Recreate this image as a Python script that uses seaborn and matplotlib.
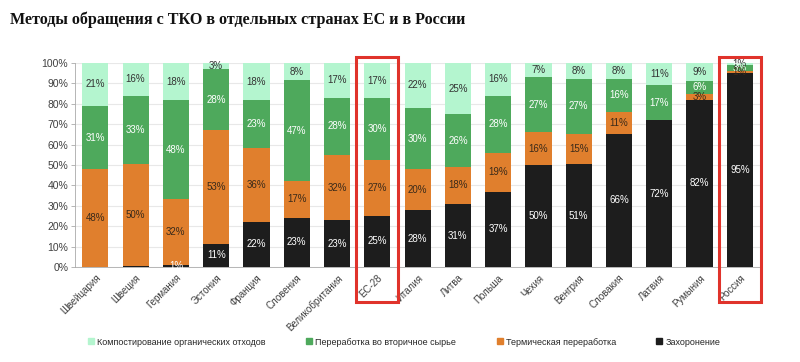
import numpy as np
import pandas as pd
import seaborn as sns
import matplotlib.pyplot as plt
from matplotlib.patches import Rectangle
from matplotlib.lines import Line2D

countries = ["Швейцария", "Швеция", "Германия", "Эстония", "Франция", "Словения",
             "Великобритания", "ЕС-28", "Италия", "Литва", "Польша", "Чехия",
             "Венгрия", "Словакия", "Латвия", "Румыния", "Россия"]
landfill = [0, 0.5, 1, 11, 22, 23, 23, 25, 28, 31, 37, 50, 51, 66, 72, 82, 95]
thermal = [48, 50, 32, 53, 36, 17, 32, 27, 20, 18, 19, 16, 15, 11, 0, 3, 1]
recycling = [31, 33, 48, 28, 23, 47, 28, 30, 30, 26, 28, 27, 27, 16, 17, 6, 3]
compost = [21, 16, 18, 3, 18, 8, 17, 17, 22, 25, 16, 7, 8, 8, 11, 9, 1]
highlight = ["ЕС-28", "Россия"]

series_names = ["Компостирование органических отходов", "Переработка во вторичное сырье",
                "Термическая переработка", "Захоронение"]
colors = ["#b4f5cf", "#4ea95c", "#e07f2d", "#1d1d1d"]
label_colors = ["#333333", "white", "#3a2a1a", "white"]

sns.set_theme(style="white")
plt.rcParams["font.family"] = ["Liberation Sans", "DejaVu Sans"]

# stack from bottom: landfill, thermal, recycling, compost (normalised to 100%)
df = pd.DataFrame({"country": countries, "landfill": landfill, "thermal": thermal,
                   "recycling": recycling, "compost": compost})
layers = ["landfill", "thermal", "recycling", "compost"]
total = df[layers].sum(axis=1)
share = df[layers].div(total, axis=0) * 100
cum = share.cumsum(axis=1)

fig = plt.figure(figsize=(8, 3.62), dpi=100)
ax = fig.add_axes([0.094, 0.262, 0.856, 0.564])

# draw cumulative totals from the top layer down so each one covers the next
for layer, col in zip(layers[::-1], colors):
    sns.barplot(x=df["country"], y=cum[layer], color=col, width=0.65,
                saturation=1, edgecolor="none", linewidth=0, ax=ax)

# segment labels
for i in range(len(countries)):
    for layer, lc in zip(layers[::-1], label_colors):
        v = df.loc[i, layer]
        if v < 1:
            continue
        top = cum.loc[i, layer]
        mid = top - share.loc[i, layer] / 2
        ax.text(i, mid, f"{v:g}%", ha="center", va="center", fontsize=7, color=lc)

ax.set_ylim(0, 100)
ax.set_xlim(-0.5, len(countries) - 0.5)
ax.set_yticks(np.arange(0, 101, 10))
ax.set_yticklabels([f"{t}%" for t in range(0, 101, 10)], fontsize=7.5, color="#404040")
ax.yaxis.grid(True, color="#e8e8e8", linewidth=0.8)
ax.set_axisbelow(True)
ax.set_xlabel("")
ax.set_ylabel("")
ax.set_xticks(range(len(countries)))
ax.set_xticklabels(countries, rotation=45, ha="right", rotation_mode="anchor",
                   fontsize=7, color="#404040")
ax.tick_params(axis="x", length=0, pad=4)
ax.set_xticks(np.arange(-0.5, len(countries), 1), minor=True)
ax.tick_params(axis="x", which="minor", length=3, color="#aaaaaa", width=0.6)
ax.tick_params(axis="y", length=3, color="#aaaaaa", width=0.6, left=True, pad=2)
for side in ["top", "right"]:
    ax.spines[side].set_visible(False)
for side in ["left", "bottom"]:
    ax.spines[side].set_color("#aaaaaa")
    ax.spines[side].set_linewidth(0.6)

# red highlight boxes
for name in highlight:
    i = countries.index(name)
    ax.add_patch(Rectangle((i - 0.52, -17), 1.04, 120, fill=False, edgecolor="#e0332b",
                           linewidth=2.2, clip_on=False, zorder=5))

handles = [Line2D([], [], marker="s", linestyle="none", markersize=5,
                  markerfacecolor=c, markeredgecolor=c) for c in colors]
fig.legend(handles, series_names, loc="center", bbox_to_anchor=(0.505, 0.055), ncol=4,
           frameon=False, handlelength=0.8, handletextpad=0.3,
           columnspacing=4.4, prop={"family": ["Liberation Sans", "DejaVu Sans"], "size": 6.5})

fig.text(0.012, 0.945, "Методы обращения с ТКО в отдельных странах ЕС и в России",
         fontsize=11.6, fontweight="bold", family=["Liberation Serif", "DejaVu Serif"],
         ha="left", va="center", color="#111111")

fig.savefig("out.png", dpi=100)
